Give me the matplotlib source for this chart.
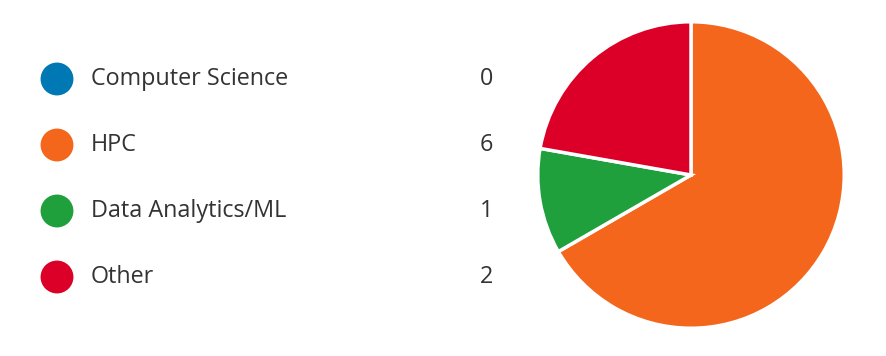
import matplotlib.pyplot as plt

plt.rcParams["font.family"] = ["Open Sans", "DejaVu Sans"]

categories = ["Computer Science", "HPC", "Data Analytics/ML", "Other"]
counts = [0, 6, 1, 2]
colors = ["#0078B4", "#F4661B", "#1FA03C", "#DC0028"]

W, H = 886, 356
fig = plt.figure(figsize=(W / 100, H / 100), dpi=100)

# legend area in pixel coordinates
leg = fig.add_axes([0, 0, 1, 1])
leg.set_xlim(0, W)
leg.set_ylim(H, 0)
leg.axis("off")

row_y = [79 + i * 66 for i in range(len(categories))]
leg.scatter([57] * len(categories), row_y, s=560, c=colors, edgecolors="none")
for y, name, n in zip(row_y, categories, counts):
    leg.text(91, y, name, fontsize=16.8, color="#333333", va="center", ha="left")
    leg.text(493, y, str(n), fontsize=16.8, color="#333333", va="center", ha="right")

# pie
cx, cy, r = 691, 175, 154
ax = fig.add_axes([(cx - r) / W, (H - cy - r) / H, 2 * r / W, 2 * r / H])
ax.pie(counts, colors=colors, startangle=90, counterclock=False, radius=1,
       wedgeprops=dict(edgecolor="white", linewidth=2.5))
ax.set_xlim(-1.005, 1.005)
ax.set_ylim(-1.005, 1.005)
ax.set_aspect("equal")

fig.savefig("out.png", dpi=100)
